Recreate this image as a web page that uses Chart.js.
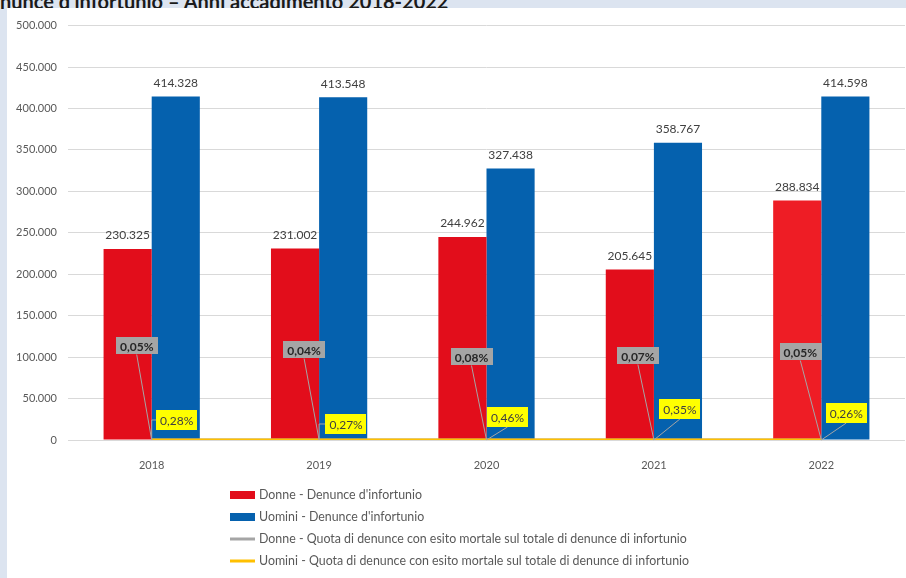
<!DOCTYPE html>
<html>
<head>
<meta charset="utf-8">
<script src="https://cdn.jsdelivr.net/npm/chart.js@4/dist/chart.umd.min.js"></script>
<style>
  html, body { margin: 0; padding: 0; }
  body { width: 906px; height: 578px; background: #dce4f0; position: relative; overflow: hidden; font-family: Lato, "Open Sans", sans-serif; }
  #title { position: absolute; top: -11px; left: 0; white-space: nowrap; font-size: 20px; font-weight: bold; color: #1a1a1a; }
  #wrap { position: absolute; left: 7px; top: 8px; width: 899px; height: 570px; background: #fff; }
</style>
</head>
<body>
<div id="title">denunce d'infortunio – Anni accadimento 2018-2022</div>
<div id="wrap"><canvas id="chart"></canvas></div>
<script>
const years = ["2018", "2019", "2020", "2021", "2022"];
const donneDenunce = [230325, 231002, 244962, 205645, 288834];
const uominiDenunce = [414328, 413548, 327438, 358767, 414598];
const donneQuota = [0.05, 0.04, 0.08, 0.07, 0.05];
const uominiQuota = [0.28, 0.27, 0.46, 0.35, 0.26];
const yTickValues = [0, 50000, 100000, 150000, 200000, 250000, 300000, 350000, 400000, 450000, 500000];

// label box placement relative to the point (px), styling only
const donneBoxOffsets = [[-15, -94], [-15, -90], [-15, -83], [-16, -84], [-21, -88]];
const uominiBoxOffsets = [[25, -20], [27, -16], [21, -23], [26, -31], [25, -27]];
const uominiLeader = ["elbow", "elbow", "straight", "straight", "straight"];

const FONT = "Lato, 'Open Sans', sans-serif";

// keep the cut-off title right-aligned to where it ends in the picture
(function () {
  const t = document.getElementById("title");
  t.style.left = (448 - t.offsetWidth) + "px";
})();

function fmtInt(n) {
  return String(n).replace(/\B(?=(\d{3})+(?!\d))/g, ".");
}
function fmtPct(v) {
  return v.toFixed(2).replace(".", ",") + "%";
}

const barValueLabels = {
  id: "barValueLabels",
  afterDatasetsDraw(chart) {
    const ctx = chart.ctx;
    ctx.save();
    ctx.font = "12px " + FONT;
    ctx.fillStyle = "#404040";
    ctx.textAlign = "center";
    ctx.textBaseline = "middle";
    chart.data.datasets.forEach(function (ds, i) {
      if (ds.type !== "bar") return;
      chart.getDatasetMeta(i).data.forEach(function (el, j) {
        ctx.fillText(fmtInt(ds.data[j]), el.x, el.y - 13.5);
      });
    });
    ctx.restore();
  },
};

const quotaLabels = {
  id: "quotaLabels",
  afterDraw(chart) {
    const ctx = chart.ctx;
    ctx.save();
    ctx.textAlign = "center";
    ctx.textBaseline = "middle";
    chart.data.datasets.forEach(function (ds, i) {
      if (!ds.boxOffsets) return;
      chart.getDatasetMeta(i).data.forEach(function (el, j) {
        const txt = fmtPct(ds.data[j]);
        ctx.font = (ds.boxBold ? "bold " : "") + "12px " + FONT;
        const w = ctx.measureText(txt).width + 8;
        const h = ds.boxHeight;
        const cx = el.x + ds.boxOffsets[j][0];
        const cy = el.y + ds.boxOffsets[j][1];
        ctx.strokeStyle = "#a5a5a5";
        ctx.lineWidth = 1;
        ctx.beginPath();
        ctx.moveTo(el.x, el.y);
        if (ds.leader && ds.leader[j] === "elbow") {
          ctx.lineTo(el.x, cy);
          ctx.lineTo(cx - w / 2, cy);
        } else {
          ctx.lineTo(cx, cy + h / 2);
        }
        ctx.stroke();
        ctx.fillStyle = ds.boxColor;
        ctx.fillRect(Math.round(cx - w / 2), Math.round(cy - h / 2), Math.round(w), h);
        ctx.fillStyle = ds.boxText;
        ctx.fillText(txt, cx, cy + 1);
      });
    });
    ctx.restore();
  },
};

const columnLegend = {
  id: "columnLegend",
  afterDraw(chart) {
    const ctx = chart.ctx;
    const x0 = 223, y0 = 487, step = 22;
    ctx.save();
    ctx.font = "12.4px " + FONT;
    ctx.textAlign = "left";
    ctx.textBaseline = "middle";
    chart.data.datasets.forEach(function (ds, i) {
      const y = y0 + i * step;
      if (ds.type === "bar") {
        ctx.fillStyle = ds.legendColor;
        ctx.fillRect(x0, y - 4, 25, 8);
      } else {
        ctx.fillStyle = ds.borderColor;
        ctx.fillRect(x0, y - 1.5, 25, 3);
      }
      ctx.fillStyle = "#595959";
      ctx.fillText(ds.label, x0 + 29, y);
    });
    ctx.restore();
  },
};

new Chart(document.getElementById("chart"), {
  data: {
    labels: years,
    datasets: [
      {
        type: "bar",
        label: "Donne - Denunce d'infortunio",
        data: donneDenunce,
        backgroundColor: ["#e20d1b", "#e20d1b", "#e20d1b", "#e20d1b", "#ee1d25"],
        legendColor: "#e20d1b",
        categoryPercentage: 0.575,
        barPercentage: 1,
        order: 3,
      },
      {
        type: "bar",
        label: "Uomini - Denunce d'infortunio",
        data: uominiDenunce,
        backgroundColor: "#0561ae",
        legendColor: "#0561ae",
        categoryPercentage: 0.575,
        barPercentage: 1,
        order: 3,
      },
      {
        type: "line",
        label: "Donne - Quota di denunce con esito mortale sul totale di denunce di infortunio",
        data: donneQuota,
        borderColor: "#a5a5a5",
        borderWidth: 3,
        pointRadius: 0,
        order: 2,
        boxOffsets: donneBoxOffsets,
        boxColor: "#a5a5a5",
        boxText: "#262626",
        boxBold: true,
        boxHeight: 17,
      },
      {
        type: "line",
        label: "Uomini - Quota di denunce con esito mortale sul totale di denunce di infortunio",
        data: uominiQuota,
        borderColor: "#ffc000",
        borderWidth: 3,
        pointRadius: 0,
        order: 1,
        boxOffsets: uominiBoxOffsets,
        leader: uominiLeader,
        boxColor: "#ffff00",
        boxText: "#404040",
        boxBold: false,
        boxHeight: 20,
      },
    ],
  },
  options: {
    responsive: true,
    maintainAspectRatio: false,
    animation: false,
    layout: { padding: { top: 14, right: 1, bottom: 108, left: 0 } },
    plugins: {
      legend: { display: false },
      tooltip: { enabled: false },
    },
    scales: {
      x: {
        grid: { display: false },
        border: { display: false },
        ticks: { color: "#595959", font: { family: FONT, size: 11 }, padding: 11 },
        afterFit: function (s) { s.height = 30; },
      },
      y: {
        min: 0,
        max: 500000,
        afterBuildTicks: function (s) {
          s.ticks = yTickValues.map(function (v) { return { value: v }; });
        },
        ticks: {
          color: "#595959",
          font: { family: FONT, size: 11 },
          padding: 11,
          callback: function (v) { return fmtInt(v); },
        },
        grid: { color: "#d9d9d9", drawTicks: false },
        border: { display: false },
        afterFit: function (s) { s.width = 61; },
      },
    },
  },
  plugins: [barValueLabels, quotaLabels, columnLegend],
});
</script>
</body>
</html>
